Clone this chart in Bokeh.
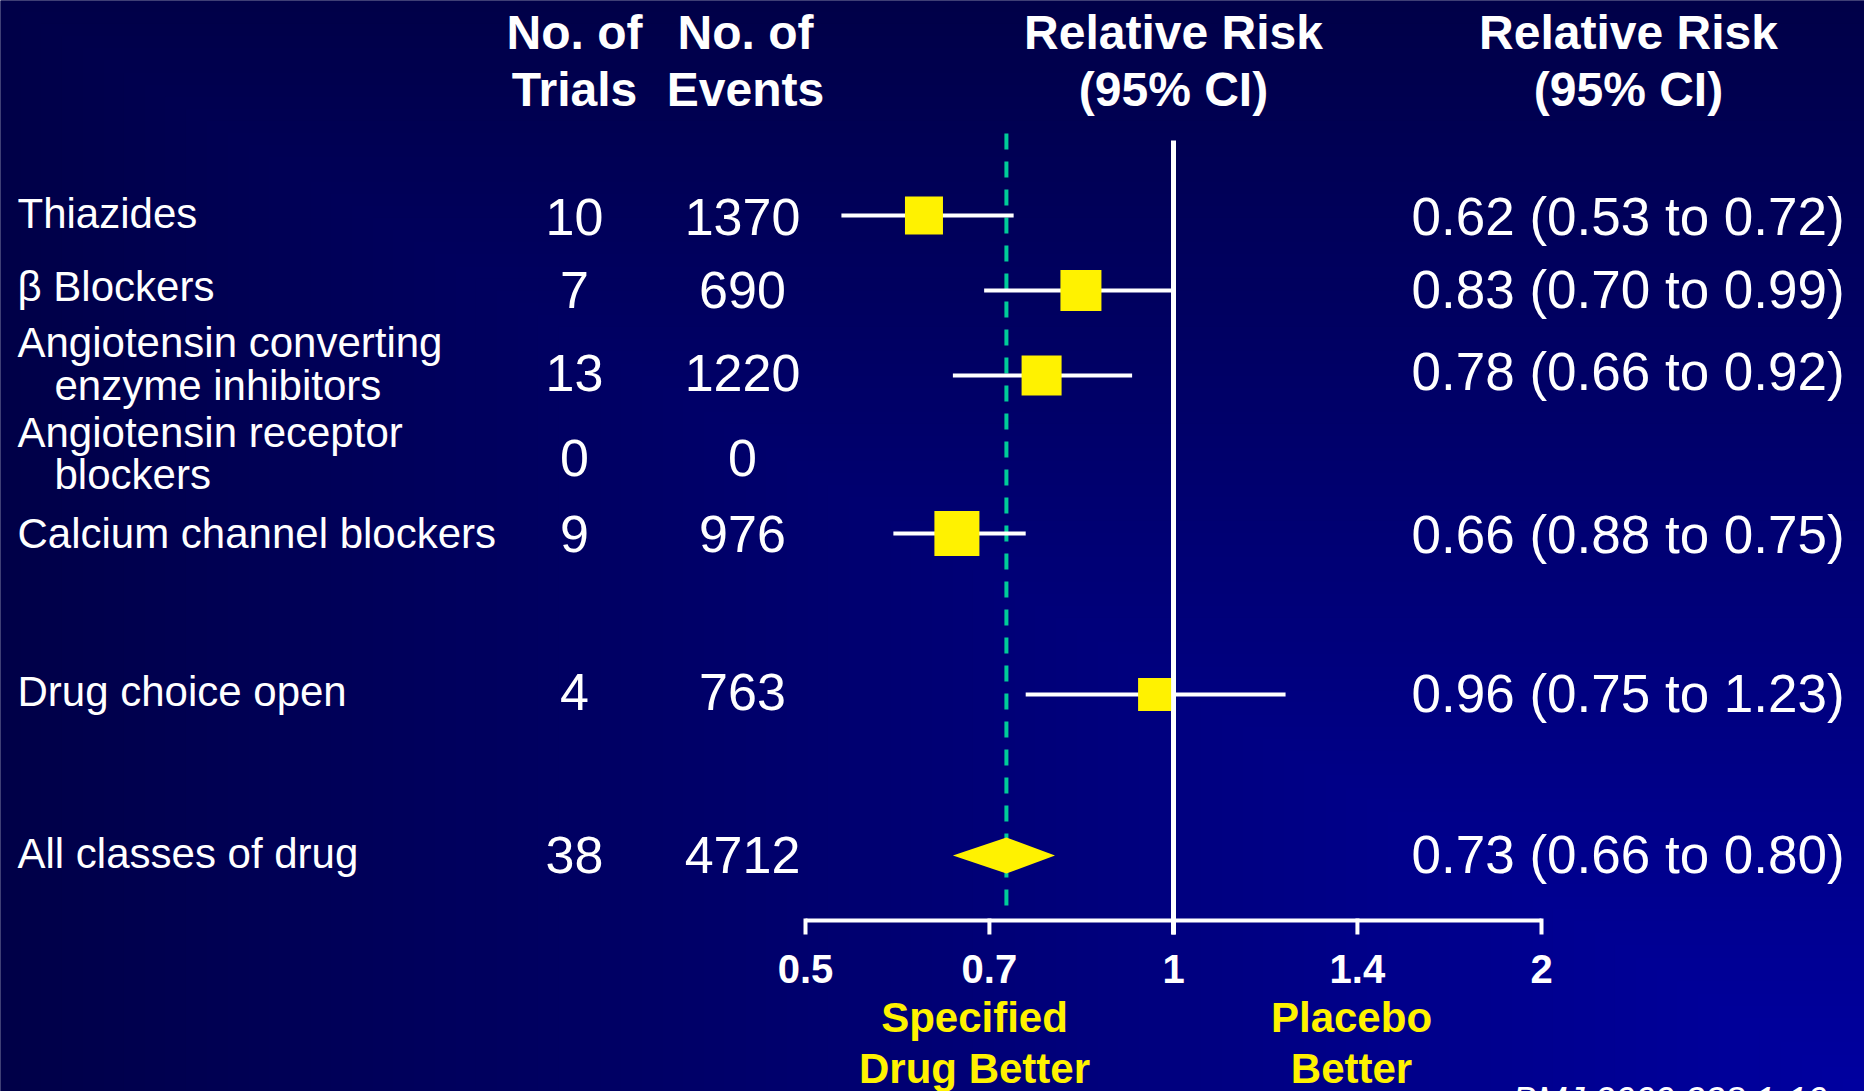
import numpy as np
from bokeh.plotting import figure
from bokeh.models import Range1d, LinearScale
from bokeh.core.properties import value
from bokeh.embed import file_html
from bokeh.resources import INLINE

# ---------------- data ----------------
class_line1 = ["Thiazides", "\u03b2 Blockers", "Angiotensin converting", "Angiotensin receptor",
               "Calcium channel blockers", "Drug choice open", "All classes of drug"]
class_line2 = ["", "", "enzyme inhibitors", "blockers", "", "", ""]
n_trials = [10, 7, 13, 0, 9, 4, 38]
n_events = [1370, 690, 1220, 0, 976, 763, 4712]
rr_labels = ["0.62 (0.53 to 0.72)", "0.83 (0.70 to 0.99)", "0.78 (0.66 to 0.92)", "",
             "0.66 (0.88 to 0.75)", "0.96 (0.75 to 1.23)", "0.73 (0.66 to 0.80)"]

# plotted estimates, rows with a square
est_rows = [0, 1, 2, 4, 5]
rr_est = [0.625, 0.84, 0.78, 0.665, 0.965]
rr_lo = [0.535, 0.70, 0.66, 0.59, 0.757]
rr_hi = [0.74, 1.00, 0.925, 0.757, 1.235]

pooled_est = 0.73
pooled_lo = 0.66
pooled_hi = 0.80

# ticks sit at even log steps on the drawn axis
tick_values = [0.5, 0.707, 1, 1.414, 2]
tick_labels = ["0.5", "0.7", "1", "1.4", "2"]

# ---------------- layout (reference pixel coordinates) ----------------
W, H = 1864, 1091

def tb(base, size):
    # baseline correction for the text renderer
    return base - 0.355 * size

marker_y = [215, 290, 375, 458, 533, 694, 855]
label1_base = [228, 301, 357, 447, 548, 706, 868]
label2_base = [None, None, 400, 489, None, None, None]
num_base = [235, 308, 391, 476, 552, 710, 873]
rr_base = [235, 308, 390, None, 553, 712, 873]
square_px = [38, 41, 40, 45, 33]

X_LEFT, X_LEFT2 = 17, 54
X_TRIALS, X_EVENTS, X_RR = 574, 742, 1411
SX_LO, SX_HI = 805, 1541  # screen positions of 0.5 and 2

lnr = np.log(2.0) - np.log(0.5)
x_start = float(np.exp(np.log(0.5) - SX_LO * lnr / (SX_HI - SX_LO)))
x_end = float(np.exp(np.log(2.0) + (W - SX_HI) * lnr / (SX_HI - SX_LO)))

FONT = value("Liberation Sans")
WHITE = "#ffffff"
YELLOW = "#fff200"
TEAL = "#00cc99"

p = figure(width=W, height=H, x_axis_type="log",
           x_range=Range1d(x_start, x_end), y_range=Range1d(H, 0),
           output_backend="svg", toolbar_location=None, min_border=0)
p.extra_x_ranges = {"px": Range1d(0, W)}
p.extra_x_scales = {"px": LinearScale()}
p.axis.visible = False
p.grid.visible = False
p.outline_line_color = None
p.background_fill_color = "#000048"
p.border_fill_color = "#000048"

# ---------------- background gradient (from bottom-right corner) ----------------
dark = np.array([0, 0, 72])
bright = np.array([0, 0, 160])
steps = 90
lefts, tops, cols = [], [], []
for i in range(steps):
    s = 1 - i / steps
    c = dark + (bright - dark) * (1 - s)
    lefts.append(W * (1 - s) - 1)
    tops.append(H * (1 - s) - 1)
    cols.append("#%02x%02x%02x" % tuple(int(round(v)) for v in c))
p.quad(left=lefts, right=[W + 2] * steps, top=tops, bottom=[H + 2] * steps,
       fill_color=cols, line_color=None, x_range_name="px")

# ---------------- reference lines ----------------
p.segment(x0=[pooled_est], x1=[pooled_est], y0=[133], y1=[906],
          line_color=TEAL, line_width=4, line_dash="16 12")
p.segment(x0=[1], x1=[1], y0=[140], y1=[934], line_color=WHITE, line_width=5)

# axis
p.segment(x0=[tick_values[0]], x1=[tick_values[-1]], y0=[920], y1=[920],
          line_color=WHITE, line_width=4)
p.segment(x0=tick_values, x1=tick_values, y0=[918] * len(tick_values),
          y1=[934] * len(tick_values), line_color=WHITE, line_width=4)
p.text(x=tick_values, y=[tb(983, 40)] * len(tick_values), text=tick_labels,
       text_font=FONT, text_font_style="bold", text_font_size="40px",
       text_color=WHITE, text_align="center", text_baseline="alphabetic")

# ---------------- CIs and squares ----------------
ys = [marker_y[r] for r in est_rows]
p.segment(x0=rr_lo, x1=rr_hi, y0=ys, y1=ys, line_color=WHITE, line_width=4)
p.rect(x=rr_est, y=ys, width=square_px, height=square_px,
       width_units="screen", height_units="screen",
       fill_color=YELLOW, line_color=None)

# pooled diamond
dy = 18
yc = marker_y[6]
p.patch(x=[pooled_lo, pooled_est, pooled_hi, pooled_est],
        y=[yc, yc - dy, yc, yc + dy], fill_color=YELLOW, line_color=None)

# ---------------- text columns ----------------
p.text(x=[X_LEFT] * 7, y=[tb(v, 42) for v in label1_base], text=class_line1,
       text_font=FONT, text_font_size="42px", text_color=WHITE,
       text_align="left", text_baseline="alphabetic", x_range_name="px")
l2_idx = [i for i, t in enumerate(class_line2) if t]
p.text(x=[X_LEFT2] * len(l2_idx), y=[tb(label2_base[i], 42) for i in l2_idx],
       text=[class_line2[i] for i in l2_idx],
       text_font=FONT, text_font_size="42px", text_color=WHITE,
       text_align="left", text_baseline="alphabetic", x_range_name="px")

p.text(x=[X_TRIALS] * 7, y=[tb(v, 52) for v in num_base], text=[str(v) for v in n_trials],
       text_font=FONT, text_font_size="52px", text_color=WHITE,
       text_align="center", text_baseline="alphabetic", x_range_name="px")
p.text(x=[X_EVENTS] * 7, y=[tb(v, 52) for v in num_base], text=[str(v) for v in n_events],
       text_font=FONT, text_font_size="52px", text_color=WHITE,
       text_align="center", text_baseline="alphabetic", x_range_name="px")

rr_idx = [i for i, t in enumerate(rr_labels) if t]
p.text(x=[X_RR] * len(rr_idx), y=[tb(rr_base[i], 53) for i in rr_idx],
       text=[rr_labels[i] for i in rr_idx],
       text_font=FONT, text_font_size="53px", text_color=WHITE,
       text_align="left", text_baseline="alphabetic", x_range_name="px")

# headers
hx = [X_TRIALS, X_TRIALS, 745, 745, 1173, 1173, 1628, 1628]
hy = [49, 106] * 4
ht = ["No. of", "Trials", "No. of", "Events", "Relative Risk", "(95% CI)",
      "Relative Risk", "(95% CI)"]
p.text(x=hx, y=[tb(v, 48) for v in hy], text=ht,
       text_font=FONT, text_font_style="bold", text_font_size="48px",
       text_color=WHITE, text_align="center", text_baseline="alphabetic",
       x_range_name="px")

# favours labels
p.text(x=[974, 974, 1351, 1351], y=[tb(v, 42) for v in [1032, 1083, 1032, 1083]],
       text=["Specified", "Drug Better", "Placebo", "Better"],
       text_font=FONT, text_font_style="bold", text_font_size="42px",
       text_color=YELLOW, text_align="center", text_baseline="alphabetic",
       x_range_name="px")

# citation (cut off at the bottom edge)
p.text(x=[1512], y=[tb(1113, 36)], text=["BMJ 2009;338:1-10"],
       text_font=FONT, text_font_style="italic", text_font_size="36px",
       text_color=WHITE, text_align="left", text_baseline="alphabetic",
       x_range_name="px")

open("out.html", "w").write(file_html(p, INLINE))
